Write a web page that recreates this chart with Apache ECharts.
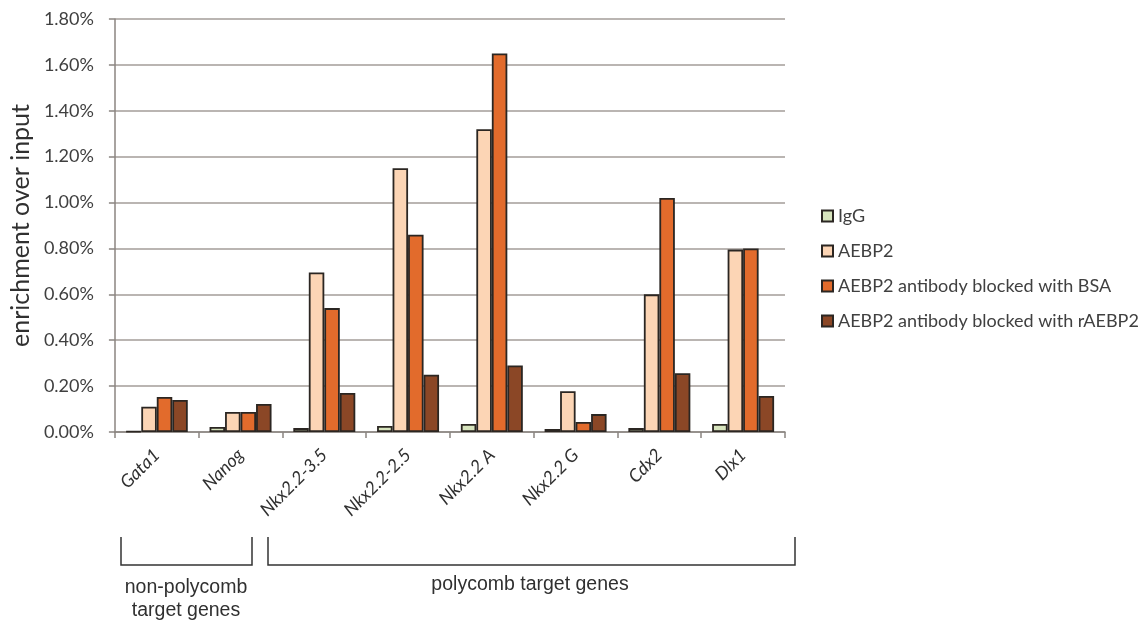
<!DOCTYPE html>
<html><head><meta charset="utf-8">
<script src="https://cdn.jsdelivr.net/npm/echarts@6/dist/echarts.min.js"></script>
<style>html,body{margin:0;padding:0;background:#fff}#c{width:1145px;height:623px}</style>
</head><body><div id="c"></div>
<script>
const categories = ['Gata1','Nanog','Nkx2.2-3.5','Nkx2.2-2.5','Nkx2.2 A','Nkx2.2 G','Cdx2','Dlx1'];
const seriesNames = ['IgG','AEBP2','AEBP2 antibody blocked with BSA','AEBP2 antibody blocked with rAEBP2'];
const igg    = [0.003,0.022,0.017,0.026,0.035,0.013,0.017,0.035];
const aebp2  = [0.11,0.087,0.695,1.15,1.32,0.178,0.60,0.795];
const bsa    = [0.153,0.087,0.54,0.86,1.65,0.044,1.02,0.80];
const raebp2 = [0.14,0.122,0.17,0.25,0.29,0.078,0.256,0.157];
const yTicks = {min:0, max:1.8, interval:0.2};
const colors = ['#d7e4bd','#fcd5b5','#e26b2c','#8b4726'];
const values = [igg, aebp2, bsa, raebp2];

const chart = echarts.init(document.getElementById('c'));
const font = 'Lato, "Open Sans", sans-serif';
chart.setOption({
  animation:false,
  textStyle:{fontFamily:font},
  grid:{left:113,right:360,top:19,bottom:191},
  legend:{
    orient:'vertical', left:816, top:202, itemWidth:11, itemHeight:11, itemGap:17,
    icon:'rect',
    textStyle:{fontSize:18,color:'#404040',fontFamily:font},
    data:seriesNames
  },
  xAxis:{
    type:'category', data:categories,
    axisLine:{lineStyle:{color:'#8b8581',width:1.5}},
    axisTick:{show:true,length:6,lineStyle:{color:'#8b8581',width:1.5}},
    axisLabel:{rotate:45,fontSize:18,fontStyle:'italic',color:'#303030',margin:20,interval:0,fontFamily:font}
  },
  yAxis:{
    type:'value', min:yTicks.min, max:yTicks.max, interval:yTicks.interval,
    name:'enrichment over input', nameLocation:'middle', nameGap:80,
    nameTextStyle:{fontSize:25,color:'#303030',fontFamily:font},
    axisLine:{show:true,lineStyle:{color:'#8b8581',width:1.5}},
    axisTick:{show:true,length:6,lineStyle:{color:'#8b8581',width:1.5}},
    axisLabel:{fontSize:18,color:'#404040',margin:21,formatter:v=>v.toFixed(2)+'%'},
    splitLine:{lineStyle:{color:'#a39d99',width:1.5}}
  },
  series: seriesNames.map((n,i)=>({
    name:n, type:'bar', data:values[i],
    barGap:'0%', barCategoryGap:'26%',
    itemStyle:{color:colors[i],borderColor:'#2b2622',borderWidth:1.8}
  })),
  graphic:[
    {type:'polyline',shape:{points:[[121,537],[121,565],[252,565],[252,537]]},style:{stroke:'#333',lineWidth:1.5,fill:null}},
    {type:'polyline',shape:{points:[[268,537],[268,565],[795,565],[795,537]]},style:{stroke:'#333',lineWidth:1.5,fill:null}},
    {type:'text',x:186,y:599,style:{text:'non-polycomb\ntarget genes',align:'center',verticalAlign:'middle',font:'19.5px "Liberation Sans", Arial, sans-serif',fill:'#303030',lineHeight:23}},
    {type:'text',x:530,y:585,style:{text:'polycomb target genes',align:'center',verticalAlign:'middle',font:'19.5px "Liberation Sans", Arial, sans-serif',fill:'#303030'}}
  ]
});
</script></body></html>
